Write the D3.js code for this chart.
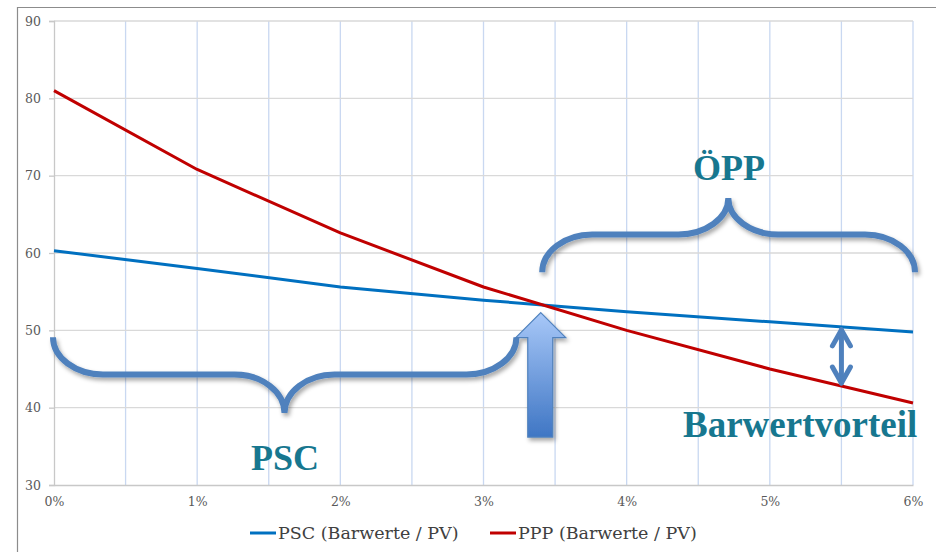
<!DOCTYPE html>
<html>
<head>
<meta charset="utf-8">
<script src="https://cdn.jsdelivr.net/npm/d3@7"></script>
<style>
  html, body { margin: 0; padding: 0; background: #fff; }
  svg { display: block; }
</style>
</head>
<body>
<svg id="chart" width="936" height="552"></svg>
<script>
// ---- data ----
const rates = [0, 0.01, 0.02, 0.03, 0.04, 0.05, 0.06];
const pscValues = [60.3, 58.0, 55.6, 53.9, 52.4, 51.1, 49.8];
const pppValues = [81.0, 70.8, 62.6, 55.6, 50.0, 45.0, 40.6];
const yTicks = [30, 40, 50, 60, 70, 80, 90];
const xTicks = [0, 0.01, 0.02, 0.03, 0.04, 0.05, 0.06];
const xGrid = [0.005, 0.01, 0.015, 0.02, 0.025, 0.03, 0.035, 0.04, 0.045, 0.05, 0.055, 0.06];
const seriesNames = ["PSC (Barwerte / PV)", "PPP (Barwerte / PV)"];
const crossRate = 0.034;
const advantageRate = 0.055;

const svg = d3.select("#chart");
const margin = { left: 54, right: 23, top: 21, bottom: 67 };
const W = 936, H = 552;
const x = d3.scaleLinear().domain([0, 0.06]).range([margin.left, W - margin.right]);
const y = d3.scaleLinear().domain([30, 90]).range([H - margin.bottom, margin.top]);

const accent = "#4f81bd";
const teal = "#17778f";
const serif = "'DejaVu Serif', serif";
const bold = "'Liberation Serif', 'Times New Roman', serif";

// defs
const defs = svg.append("defs");
const f = defs.append("filter").attr("id", "shadow").attr("x", "-20%").attr("y", "-20%").attr("width", "140%").attr("height", "160%");
f.append("feDropShadow").attr("dx", 2).attr("dy", 3).attr("stdDeviation", 2).attr("flood-color", "#000").attr("flood-opacity", 0.35);
const g = defs.append("linearGradient").attr("id", "arrowGrad").attr("x1", 0).attr("y1", 0).attr("x2", 0).attr("y2", 1);
g.append("stop").attr("offset", "0%").attr("stop-color", "#a8c8f8");
g.append("stop").attr("offset", "100%").attr("stop-color", "#3f76c4");

// outer frame (left and top only visible)
svg.append("path").attr("d", "M17.5,552 L17.5,7.5 L936,7.5")
  .attr("fill", "none").attr("stroke", "#8c8c8c").attr("stroke-width", 1.2);

// vertical grid
svg.append("g").selectAll("line").data(xGrid).join("line")
  .attr("x1", d => x(d)).attr("x2", d => x(d))
  .attr("y1", y(90)).attr("y2", y(30))
  .attr("stroke", "#c9d8f1").attr("stroke-width", 1.3);

// horizontal grid
svg.append("g").selectAll("line").data(yTicks.slice(1)).join("line")
  .attr("x1", x(0)).attr("x2", x(0.06))
  .attr("y1", d => y(d)).attr("y2", d => y(d))
  .attr("stroke", "#d9d9d9").attr("stroke-width", 1.3);

// y axis
const yAxis = svg.append("g").attr("transform", `translate(${x(0)},0)`)
  .call(d3.axisLeft(y).tickValues(yTicks).tickSize(5).tickPadding(8).tickFormat(d3.format("d")));
yAxis.select(".domain").attr("stroke", "#c8c8c8").attr("stroke-width", 1.3);
yAxis.selectAll(".tick line").attr("stroke", "#c8c8c8").attr("stroke-width", 1.3);
yAxis.selectAll("text").attr("fill", "#595959").style("font-family", serif).style("font-size", "12.5px");

// x axis
const xAxis = svg.append("g").attr("transform", `translate(0,${y(30)})`)
  .call(d3.axisBottom(x).tickValues(xTicks).tickSize(0).tickPadding(12).tickFormat(d3.format(".0%")));
xAxis.select(".domain").attr("stroke", "#c8c8c8").attr("stroke-width", 1.3);
xAxis.selectAll("text").attr("fill", "#595959").style("font-family", serif).style("font-size", "12.5px");

// lines
const line = d3.line().x((d, i) => x(rates[i])).y(d => y(d));
svg.append("path").datum(pscValues).attr("d", line)
  .attr("fill", "none").attr("stroke", "#0070c0").attr("stroke-width", 3).attr("stroke-linejoin", "round");
svg.append("path").datum(pppValues).attr("d", line)
  .attr("fill", "none").attr("stroke", "#c00000").attr("stroke-width", 3).attr("stroke-linejoin", "round");

// brace helper (quarter-ellipse ends and tip)
function brace(x1, x2, tipX, yEnd, yMid, tipY) {
  const r = 50, k = 0.55;
  const e = yMid - yEnd, t = tipY - yMid;
  return `M${x1},${yEnd} C${x1},${yEnd + k*e} ${x1 + r*(1-k)},${yMid} ${x1 + r},${yMid}` +
         ` L${tipX - r},${yMid} C${tipX - r*(1-k)},${yMid} ${tipX},${yMid + (1-k)*t} ${tipX},${tipY}` +
         ` M${tipX},${tipY} C${tipX},${yMid + (1-k)*t} ${tipX + r*(1-k)},${yMid} ${tipX + r},${yMid}` +
         ` L${x2 - r},${yMid} C${x2 - r*(1-k)},${yMid} ${x2},${yEnd + k*e} ${x2},${yEnd}`;
}
const ann = svg.append("g").attr("filter", "url(#shadow)");
// PSC brace
ann.append("path")
  .attr("d", brace(x(0) - 1, x(0.0323), x(0.0161), y(49.1), y(44.3), y(39.3)))
  .attr("fill", "none").attr("stroke", accent).attr("stroke-width", 6).attr("stroke-linecap", "butt");
// ÖPP brace
ann.append("path")
  .attr("d", brace(x(0.0341), x(0.06) + 2, x(0.0471), y(57.5), y(62.4), y(67.1)))
  .attr("fill", "none").attr("stroke", accent).attr("stroke-width", 6).attr("stroke-linecap", "butt");

// big up arrow at crossing
const ax = x(crossRate), tipYv = y(53.2) + 7;
const arrowPts = [
  [ax, tipYv], [ax + 25, tipYv + 25], [ax + 12, tipYv + 25], [ax + 12, y(36.2)],
  [ax - 13, y(36.2)], [ax - 13, tipYv + 25], [ax - 25, tipYv + 25]
];
ann.append("polygon").attr("points", arrowPts.map(p => p.join(",")).join(" "))
  .attr("fill", "url(#arrowGrad)").attr("stroke", accent).attr("stroke-width", 1.2);

// double arrow (Barwertvorteil)
const dx = x(advantageRate);
const pscAt = (pscValues[5] + pscValues[6]) / 2;
const pppAt = (pppValues[5] + pppValues[6]) / 2;
const yTop = y(pscAt) + 1, yBot = y(pppAt) - 1;
const dbl = svg.append("g").attr("stroke", accent).attr("stroke-width", 5).attr("fill", "none")
  .attr("stroke-linecap", "round").attr("stroke-linejoin", "round");
dbl.append("line").attr("x1", dx).attr("x2", dx).attr("y1", yTop + 2).attr("y2", yBot - 2);
dbl.append("path").attr("d", `M${dx - 9},${yTop + 18} L${dx},${yTop + 2} L${dx + 9},${yTop + 18}`);
dbl.append("path").attr("d", `M${dx - 9},${yBot - 18} L${dx},${yBot - 2} L${dx + 9},${yBot - 18}`);

// labels
const labels = svg.append("g").attr("fill", teal).style("font-family", bold)
  .style("font-weight", "bold").style("font-size", "36px");
labels.append("text").attr("x", 251).attr("y", 470).text("PSC");
labels.append("text").attr("x", 693).attr("y", 180).text("ÖPP");
labels.append("text").attr("x", 683).attr("y", 437).style("font-size", "37px").text("Barwertvorteil");

// legend
const legendColors = ["#0070c0", "#c00000"];
const legendX = [250, 490];
const leg = svg.append("g");
seriesNames.forEach((n, i) => {
  leg.append("line").attr("x1", legendX[i]).attr("x2", legendX[i] + 26)
    .attr("y1", 533).attr("y2", 533).attr("stroke", legendColors[i]).attr("stroke-width", 3);
  leg.append("text").attr("x", legendX[i] + 28).attr("y", 538.5)
    .attr("fill", "#404040").style("font-family", serif).style("font-size", "17.5px").text(n);
});
</script>
</body>
</html>
